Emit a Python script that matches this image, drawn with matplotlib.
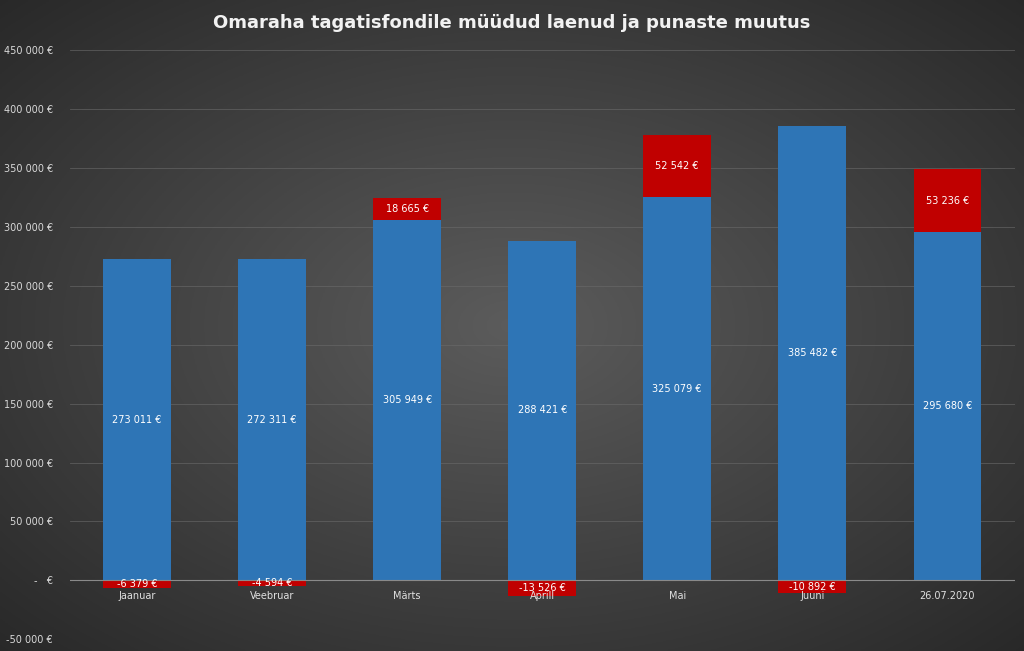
import numpy as np
import matplotlib.pyplot as plt

categories = ["Jaanuar", "Veebruar", "Märts", "Aprill", "Mai", "Juuni", "26.07.2020"]
sold = [273011, 272311, 305949, 288421, 325079, 385482, 295680]
red_change = [-6379, -4594, 18665, -13526, 52542, -10892, 53236]


def fmt(v):
    return f"{v:,}".replace(",", " ") + " €"


def ytick(v):
    if v == 0:
        return "-   €"
    return ("-" if v < 0 else "") + f"{abs(v):,}".replace(",", " ") + " €"


fig = plt.figure(figsize=(10.24, 6.51), dpi=100)

# dark radial gradient background
bg = fig.add_axes([0, 0, 1, 1], zorder=-10)
yy, xx = np.mgrid[-1:1:300j, -1:1:400j]
r = np.clip(np.sqrt(xx ** 2 + yy ** 2) / 1.41, 0, 1)
shade = 0.36 - 0.20 * r
bg.imshow(np.dstack([shade, shade, shade]), aspect="auto", extent=[0, 1, 0, 1])
bg.axis("off")

ax = fig.add_axes([0.068, 0.018, 0.923, 0.905])
ax.set_facecolor("none")
x = np.arange(len(categories))
blue, red = "#2E75B6", "#C00000"
ax.bar(x, sold, width=0.5, color=blue, zorder=2)
for i, (s, c) in enumerate(zip(sold, red_change)):
    bottom = s if c > 0 else 0
    ax.bar(i, c, width=0.5, bottom=bottom, color=red, zorder=2)
    ax.text(i, s / 2, fmt(s), ha="center", va="center", color="white", fontsize=7, zorder=4)
    ax.text(i, bottom + c / 2, fmt(c), ha="center", va="center", color="white", fontsize=7, zorder=4)
    ax.text(i, -13500, categories[i], ha="center", va="center", color="#e0e0e0", fontsize=7, zorder=5)

ax.set_xlim(-0.5, len(categories) - 0.5)
ax.set_ylim(-50000, 450000)
ticks = np.arange(-50000, 450001, 50000)
ax.set_yticks(ticks)
ax.set_yticklabels([ytick(t) for t in ticks], color="#d9d9d9", fontsize=7)
ax.set_xticks([])
ax.tick_params(axis="y", length=0, pad=12)
ax.grid(axis="y", color="#6a6a6a", linewidth=0.6, alpha=0.7, zorder=0)
ax.axhline(0, color="#8a8a8a", linewidth=0.8, zorder=3)
for s in ax.spines.values():
    s.set_visible(False)

fig.text(0.5, 0.965, "Omaraha tagatisfondile müüdud laenud ja punaste muutus",
         ha="center", va="center", color="#f2f2f2", fontsize=13, fontweight="bold")

fig.savefig("out.png", dpi=100)
